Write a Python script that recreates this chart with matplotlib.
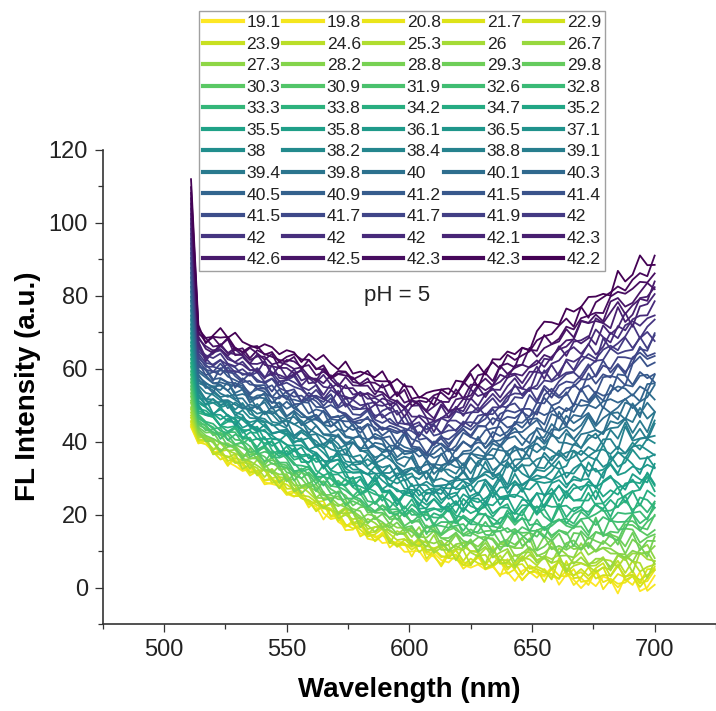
import numpy as np
import matplotlib
matplotlib.use("Agg")
import matplotlib.pyplot as plt

plt.rcParams["font.family"] = ["Liberation Sans", "DejaVu Sans"]

# Temperature labels (deg C) of the 60 spectra, in acquisition order
temperatures = [
    "19.1", "19.8", "20.8", "21.7", "22.9",
    "23.9", "24.6", "25.3", "26", "26.7",
    "27.3", "28.2", "28.8", "29.3", "29.8",
    "30.3", "30.9", "31.9", "32.6", "32.8",
    "33.3", "33.8", "34.2", "34.7", "35.2",
    "35.5", "35.8", "36.1", "36.5", "37.1",
    "38", "38.2", "38.4", "38.8", "39.1",
    "39.4", "39.8", "40", "40.1", "40.3",
    "40.5", "40.9", "41.2", "41.5", "41.4",
    "41.5", "41.7", "41.7", "41.9", "42",
    "42", "42", "42", "42.1", "42.3",
    "42.6", "42.5", "42.3", "42.3", "42.2",
]

# Emission wavelengths (nm)
wavelength = np.arange(511, 701, 3)

# Spectrum of the first (coolest) and last scans at reference wavelengths
anchor_nm = [511, 514, 517, 520, 524, 530, 540, 550, 560, 570, 580, 590,
             600, 605, 610, 615, 620, 630, 640, 650, 660, 670, 680, 690, 700]
first_scan = [44, 39.5, 38.5, 36.8, 35.5, 33.5, 30, 26.5, 22.5, 18.8, 15.2, 12.6,
              10.4, 9.5, 8.6, 7.8, 7.0, 5.6, 4.5, 3.5, 2.6, 2.0, 1.5, 1.1, 0.8]
last_scan = [112, 72, 69, 69, 70, 67.5, 66, 64.5, 62.8, 61, 59.3, 57.3,
             54.8, 53.6, 53.4, 54.4, 56.6, 60.5, 64.2, 68, 73, 77.5, 82, 86, 90.5]

# Intensity of every scan at 700 nm
intensity_700 = [0.8, 1.2, 1.8, 2.6, 3.0, 4.2, 5.0, 6.1, 7.3, 8.0,
                 9.6, 10.4, 11.9, 13.1, 14.5, 15.6, 17.0, 18.2, 19.8, 21.0,
                 22.7, 24.0, 25.5, 27.1, 28.6, 30.2, 31.5, 33.3, 34.8, 36.5,
                 38.0, 39.8, 41.2, 43.1, 44.7, 46.5, 48.0, 49.9, 51.6, 53.2,
                 55.0, 56.7, 58.5, 60.1, 62.0, 63.8, 65.5, 67.3, 69.0, 70.8,
                 72.6, 74.5, 76.2, 78.0, 79.9, 81.7, 83.6, 85.5, 87.6, 90.5]

# Detector noise pattern (normalised)
noise = [0.3, -0.8, 0.6, -0.2, 0.9, -0.5, 0.1, -0.9, 0.4, 0.7, -0.3, -0.7, 0.5, 0.0, -0.6,
         0.8, -0.1, 0.2, -0.9, 0.6, -0.4, 0.3, 0.9, -0.6, -0.2, 0.5, -0.8, 0.1, 0.7, -0.5,
         0.4, -0.3, -0.9, 0.8, 0.2, -0.4, 0.6, -0.7, 0.0, 0.5, -0.2, 0.9, -0.5, 0.3, -0.8,
         0.1, 0.6, -0.4, -0.1, 0.8, -0.6, 0.2, 0.4, -0.9, 0.7, -0.3, 0.0, 0.5, -0.7, 0.3,
         0.8, -0.2, -0.5, 0.6, -0.9, 0.1, 0.4, -0.6, 0.9, -0.1, 0.2, -0.8, 0.5, 0.7, -0.4,
         -0.2, 0.6, -0.5, 0.3, -0.7, 0.9, 0.0, -0.3, 0.4, -0.8, 0.6, 0.1, -0.6, 0.8, -0.4,
         0.2, -0.1, 0.7, -0.9, 0.5, -0.2, 0.3, -0.6, 0.8, -0.5, 0.1]

# Build the family of spectra
lo = np.interp(wavelength, anchor_nm, first_scan)
hi = np.interp(wavelength, anchor_nm, last_scan)
noise_arr = np.array(noise)
m = len(noise_arr)
amp = 2.0 + 1.4 * (wavelength - 511) / 189.0
steps = np.arange(len(wavelength))
spectra = []
n = len(temperatures)
for i in range(n):
    f = (intensity_700[i] - lo[-1]) / (hi[-1] - lo[-1])
    a = noise_arr[(steps + 37 * i) % m]
    b = noise_arr[(2 * steps + 53 * i + 11) % m]
    jitter = (0.7 * a + 0.5 * b) * amp
    jitter[:2] = 0.0
    spectra.append(lo + f * (hi - lo) + jitter)

W, H = 716, 711
fig = plt.figure(figsize=(W / 100, H / 100), dpi=100)
ax = fig.add_axes([102.7 / W, 1 - 624 / H, (W - 102.7) / W, (624 - 150) / H])

cmap = plt.get_cmap("viridis_r")
lines = []
for i, (lab, y) in enumerate(zip(temperatures, spectra)):
    (ln,) = ax.plot(wavelength, y, color=cmap(i / (n - 1)), lw=1.3, label=lab)
    lines.append(ln)

ax.set_xlim(475, 725)
ax.set_ylim(-10, 120)
ax.set_xticks([500, 550, 600, 650, 700])
ax.set_xticks([475, 525, 575, 625, 675, 725], minor=True)
ax.set_yticks(range(0, 121, 20))
ax.set_yticks(range(-10, 120, 20), minor=True)
for s in ("top", "right"):
    ax.spines[s].set_visible(False)
for s in ("left", "bottom"):
    ax.spines[s].set_linewidth(1.2)
    ax.spines[s].set_color("#333333")
ax.tick_params(which="major", length=5.5, width=0.9, labelsize=17, pad=5, colors="#333333",
               labelcolor="#222222")
ax.tick_params(which="minor", length=3.5, width=0.9, colors="#333333")

fig.text(28.5 / W, 1 - 386 / H, "FL Intensity (a.u.)", rotation=90, ha="center", va="center",
         fontsize=20, fontweight="bold")
fig.text(409 / W, 1 - 690 / H, "Wavelength (nm)", ha="center", va="center",
         fontsize=20, fontweight="bold")
ax.text(595, 80, "pH = 5", ha="center", va="center", fontsize=16, color="#222222")

# legend filled row by row
rows, cols = 12, 5
order = [r * cols + c for c in range(cols) for r in range(rows)]
leg = ax.legend([lines[k] for k in order], [temperatures[k] for k in order],
                ncol=cols, loc="upper left", bbox_to_anchor=(199.5 / W, 1 - 11 / H),
                bbox_transform=fig.transFigure, fontsize=12.6, handlelength=2.25,
                handletextpad=0.22, columnspacing=0.15, labelspacing=0.36,
                borderpad=0.22, borderaxespad=0, frameon=True, fancybox=False,
                framealpha=1, edgecolor="#a0a0a0")
leg.get_frame().set_linewidth(1.0)
for t in leg.get_texts():
    t.set_color("#222222")
for l in leg.get_lines():
    l.set_linewidth(3.0)

fig.savefig("out.png", dpi=100)
